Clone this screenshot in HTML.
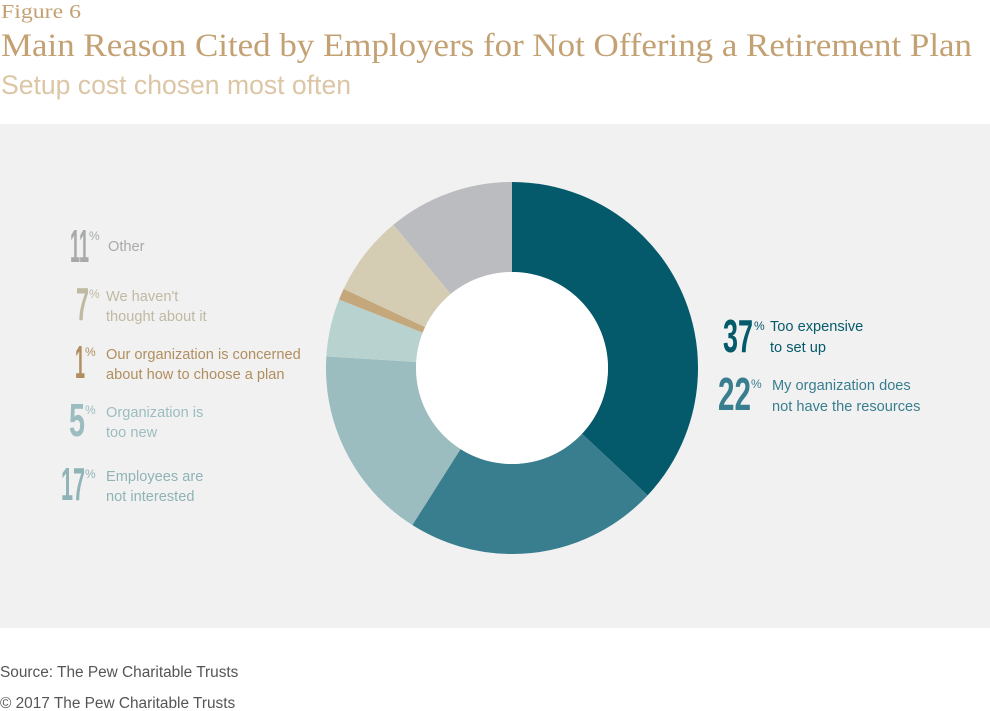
<!DOCTYPE html>
<html><head><meta charset="utf-8"><style>
html,body{margin:0;padding:0;background:#fff;}
svg{display:block}
.n{font-family:"Liberation Sans Narrow","Liberation Sans",sans-serif;font-size:46px;font-weight:bold;}
.p{font-family:"Liberation Sans",sans-serif;font-size:12px;}
.l{font-family:"Liberation Sans",sans-serif;font-size:14.6px;}
</style></head><body>
<svg width="990" height="711" viewBox="0 0 990 711" xmlns="http://www.w3.org/2000/svg">
<rect width="990" height="711" fill="#fff"/>
<text x="1" y="18" font-family="Liberation Serif,serif" font-size="20" fill="#c3a173" textLength="80" lengthAdjust="spacingAndGlyphs">Figure 6</text>
<text x="1" y="56" font-family="Liberation Serif,serif" font-size="33" fill="#c3a173" textLength="971" lengthAdjust="spacingAndGlyphs">Main Reason Cited by Employers for Not Offering a Retirement Plan</text>
<text x="1" y="94" font-family="Liberation Sans,sans-serif" font-size="27" fill="#dcc6a5" textLength="350" lengthAdjust="spacingAndGlyphs">Setup cost chosen most often</text>
<rect x="0" y="124" width="990" height="504" fill="#f1f1f1"/>
<g transform="rotate(-90 512 368)" fill="none" stroke-width="90">
<circle cx="512" cy="368" r="141" pathLength="100" stroke="#045a6b" stroke-dasharray="37 63" stroke-dashoffset="0"/>
<circle cx="512" cy="368" r="141" pathLength="100" stroke="#397e8f" stroke-dasharray="22 78" stroke-dashoffset="-37"/>
<circle cx="512" cy="368" r="141" pathLength="100" stroke="#9bbdbf" stroke-dasharray="17 83" stroke-dashoffset="-59"/>
<circle cx="512" cy="368" r="141" pathLength="100" stroke="#b8d2cf" stroke-dasharray="5 95" stroke-dashoffset="-76"/>
<circle cx="512" cy="368" r="141" pathLength="100" stroke="#c4a77b" stroke-dasharray="1 99" stroke-dashoffset="-81"/>
<circle cx="512" cy="368" r="141" pathLength="100" stroke="#d4cdb4" stroke-dasharray="7 93" stroke-dashoffset="-82"/>
<circle cx="512" cy="368" r="141" pathLength="100" stroke="#bbbcc0" stroke-dasharray="11 89" stroke-dashoffset="-89"/>
</g>
<circle cx="512" cy="368" r="96" fill="#fff"/>
<g fill="#a7a9ab">
<text class="n" x="70" y="262" textLength="19" lengthAdjust="spacingAndGlyphs">11</text>
<text class="p" x="89" y="240">%</text>
<text class="l" x="108" y="251">Other</text></g>
<g fill="#bfb9a2">
<text class="n" x="76" y="320" textLength="13" lengthAdjust="spacingAndGlyphs">7</text>
<text class="p" x="89" y="298">%</text>
<text class="l" x="106" y="301">We haven't</text><text class="l" x="106" y="321">thought about it</text></g>
<g fill="#b08e5f">
<text class="n" x="75" y="378" textLength="10" lengthAdjust="spacingAndGlyphs">1</text>
<text class="p" x="85" y="356">%</text>
<text class="l" x="106" y="359">Our organization is concerned</text><text class="l" x="106" y="379">about how to choose a plan</text></g>
<g fill="#9bbdbf">
<text class="n" x="69" y="436" textLength="16" lengthAdjust="spacingAndGlyphs">5</text>
<text class="p" x="85" y="414">%</text>
<text class="l" x="106" y="417">Organization is</text><text class="l" x="106" y="437">too new</text></g>
<g fill="#8fb3b6">
<text class="n" x="61" y="500" textLength="24" lengthAdjust="spacingAndGlyphs">17</text>
<text class="p" x="85" y="478">%</text>
<text class="l" x="106" y="481">Employees are</text><text class="l" x="106" y="501">not interested</text></g>
<g fill="#045a6b">
<text class="n" x="723" y="352" textLength="30" lengthAdjust="spacingAndGlyphs">37</text>
<text class="p" x="754" y="330">%</text>
<text class="l" x="770" y="331">Too expensive</text><text class="l" x="770" y="352">to set up</text></g>
<g fill="#397e8f">
<text class="n" x="718" y="410" textLength="33" lengthAdjust="spacingAndGlyphs">22</text>
<text class="p" x="751" y="388">%</text>
<text class="l" x="772" y="390">My organization does</text><text class="l" x="772" y="411">not have the resources</text></g>
<text x="0" y="677" font-family="Liberation Sans,sans-serif" font-size="15.4" fill="#555">Source: The Pew Charitable Trusts</text>
<text x="0" y="708" font-family="Liberation Sans,sans-serif" font-size="15.4" fill="#555">© 2017 The Pew Charitable Trusts</text>
</svg>
</body></html>
